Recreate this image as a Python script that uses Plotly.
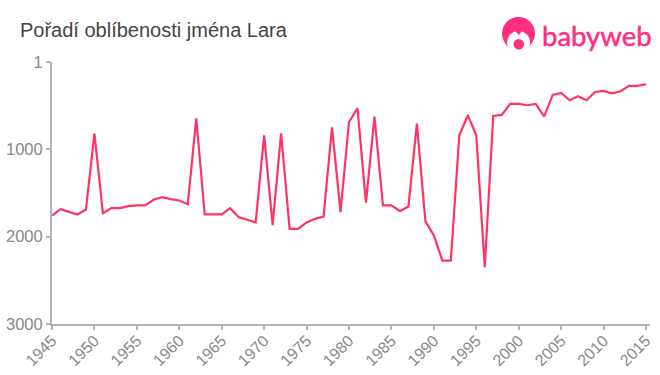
import plotly.graph_objects as go

years = list(range(1945, 2016))
ranks = [1758, 1686, 1716, 1746, 1690, 820, 1731, 1674, 1674, 1651,
         1643, 1643, 1575, 1548, 1571, 1586, 1628, 646, 1746, 1746,
         1746, 1674, 1777, 1807, 1838, 841, 1869, 818, 1911, 1911,
         1838, 1796, 1770, 748, 1720, 688, 531, 1610, 625, 1643,
         1643, 1709, 1655, 706, 1823, 1987, 2274, 2274, 841, 611,
         841, 2350, 619, 607, 481, 481, 496, 481, 623, 378,
         355, 439, 393, 439, 344, 332, 359, 336, 275, 275, 256]
x_ticks = list(range(1945, 2016, 5))
y_ticks = [1, 1000, 2000, 3000]
title_text = "Pořadí oblíbenosti jména Lara"
brand = "babyweb"

W, H = 660, 375
L, R, T, B = 52, 10, 62, 51
PW, PH = W - L - R, H - T - B


def px(x):
    return (x - L) / PW


def py(y):
    return 1 - (y - T) / PH


PINK = "#ff2e7e"
fig = go.Figure(go.Scatter(x=years, y=ranks, mode="lines",
                           line=dict(color="#ff3366", width=2.2), hoverinfo="skip"))
fig.update_layout(
    width=W, height=H, margin=dict(l=L, r=R, t=T, b=B, autoexpand=False),
    paper_bgcolor="white", plot_bgcolor="white", showlegend=False,
    font=dict(family="Liberation Sans, Arial, sans-serif", color="#888888", size=16.5),
    xaxis=dict(range=[1945, 2015 + (650 - 646) / 8.486], tickvals=x_ticks, tickangle=-45,
               tickfont=dict(size=16), ticklabelstandoff=-5,
               showgrid=False, zeroline=False, showline=True, linecolor="#b3b3b3", linewidth=2,
               ticks="outside", ticklen=4, tickwidth=2, tickcolor="#b3b3b3"),
    yaxis=dict(range=[3000, 1], tickvals=y_ticks, showgrid=False, zeroline=False,
               showline=True, linecolor="#b3b3b3", linewidth=2,
               ticks="outside", ticklen=4, tickwidth=2, tickcolor="#b3b3b3"),
    annotations=[
        dict(text=title_text, xref="paper", yref="paper", x=px(19), y=py(30), xanchor="left",
             yanchor="middle", showarrow=False, xshift=-1,
             font=dict(size=20, color="#444444", family="Liberation Sans, Arial, sans-serif")),
        dict(text=brand, xref="paper", yref="paper", x=px(540), y=py(35), xanchor="left",
             yanchor="middle", showarrow=False,
             font=dict(size=27.5, color=PINK, family="Lato, sans-serif")),
    ],
    shapes=[
        dict(type="circle", xref="paper", yref="paper", x0=px(502), x1=px(535), y0=py(17), y1=py(50),
             fillcolor=PINK, line_width=0, layer="above"),
        dict(type="circle", xref="paper", yref="paper", x0=px(507), x1=px(530), y0=py(31), y1=py(54),
             fillcolor="white", line_width=0, layer="above"),
        dict(type="path", xref="paper", yref="paper",
             path=f"M {px(514)} {py(30)} L {px(523)} {py(30)} L {px(518.7)} {py(35)} Z",
             fillcolor=PINK, line_width=0, layer="above"),
        dict(type="circle", xref="paper", yref="paper", x0=px(513.5), x1=px(524), y0=py(39), y1=py(49.5),
             fillcolor=PINK, line_width=0, layer="above"),
    ],
)
fig.write_html("out.html", config={"displayModeBar": False},
               post_script="""document.body.style.margin='0';
document.querySelectorAll('.annotation-text').forEach(function(t){
  if(t.textContent==='babyweb'){t.style.stroke='#ff2e7e';t.style.strokeWidth='0.5px';}
});""")
